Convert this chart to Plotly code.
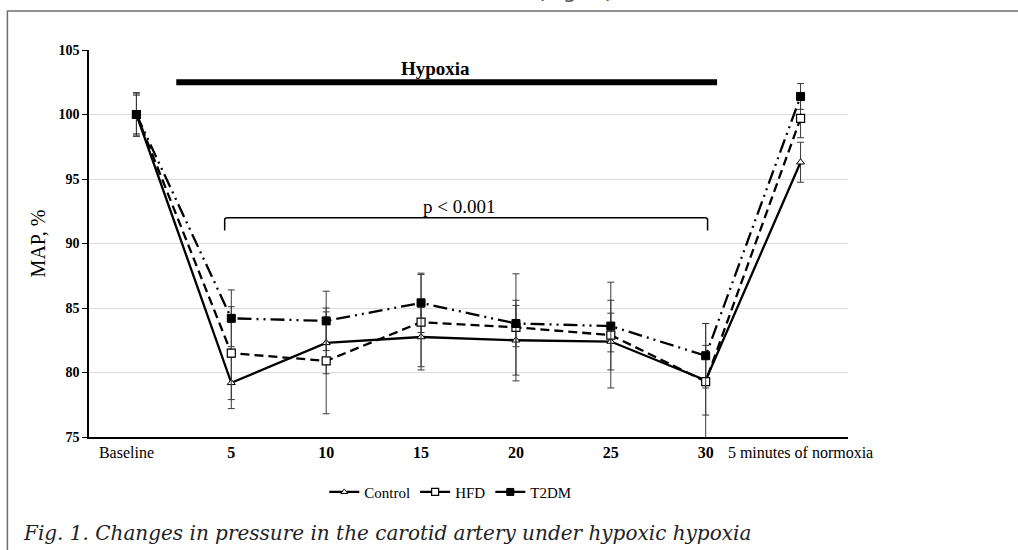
import plotly.graph_objects as go

categories = ["Baseline", "5", "10", "15", "20", "25", "30", "5 minutes of normoxia"]
tick_labels = ["Baseline&nbsp;&nbsp;&nbsp;&nbsp;&nbsp;", "<b>5</b>", "<b>10</b>", "<b>15</b>", "<b>20</b>",
               "<b>25</b>", "<b>30</b>", "5 minutes of normoxia"]

control = [100.0, 79.2, 82.3, 82.75, 82.5, 82.4, 79.4, 96.3]
control_err = [1.6, 2.0, 2.4, 2.3, 2.7, 2.2, 2.7, 1.55]

hfd = [100.0, 81.5, 80.9, 83.9, 83.5, 82.9, 79.3, 99.7]
hfd_err = [1.5, 3.6, 4.1, 3.7, 4.15, 4.1, 4.5, 1.5]

t2dm = [100.0, 84.2, 84.0, 85.4, 83.8, 83.6, 81.3, 101.4]
t2dm_err = [1.7, 2.2, 2.3, 2.3, 1.8, 2.0, 2.5, 1.0]

y_ticks = [75, 80, 85, 90, 95, 100, 105]

xs = list(range(len(categories)))
serif = "Liberation Serif"

fig = go.Figure()

def add_series(name, vals, errs, dash, symbol, msize, mcolor, mline):
    fig.add_trace(go.Scatter(
        x=xs, y=vals, name=name, mode="lines+markers", showlegend=False,
        line=dict(color="black", width=2.3, dash=dash),
        marker=dict(symbol=symbol, size=msize, color=mcolor,
                    line=dict(color="black", width=mline)),
        error_y=dict(type="data", array=errs, visible=True,
                     color="#3a3a3a", thickness=1, width=3.5),
    ))
    # legend entry (solid line, as in the reference legend)
    fig.add_trace(go.Scatter(
        x=[None], y=[None], name=name, mode="lines+markers", showlegend=True,
        line=dict(color="black", width=2.3),
        marker=dict(symbol=symbol, size=msize - 1, color=mcolor,
                    line=dict(color="black", width=mline)),
    ))

add_series("Control", control, control_err, "solid", "triangle-up", 7, "white", 1)
add_series("HFD", hfd, hfd_err, "9px,5px", "square", 8, "white", 1.2)
add_series("T2DM", t2dm, t2dm_err, "14px,5px,2px,5px,2px,5px", "square", 8, "black", 1)

# Hypoxia bar
fig.add_shape(type="line", xref="x", yref="y", x0=0.42, x1=6.12, y0=102.5, y1=102.5,
              line=dict(color="black", width=6))
fig.add_annotation(x=3.15, y=103.6, xref="x", yref="y", text="<b>Hypoxia</b>",
                   showarrow=False, font=dict(family=serif, size=19, color="black"))

# significance bracket
fig.add_shape(type="path", xref="x", yref="y",
              path="M 0.93,91.0 L 0.93,91.85 Q 0.93,92.0 0.96,92.0 L 5.99,92.0 Q 6.02,92.0 6.02,91.85 L 6.02,91.0",
              line=dict(color="black", width=1.5))
fig.add_annotation(x=3.4, y=92.85, xref="x", yref="y", text="p &lt; 0.001",
                   showarrow=False, font=dict(family=serif, size=19, color="black"))

# frame
fig.add_shape(type="path", xref="paper", yref="paper",
              path="M -0.1075,-0.4 L -0.1075,1.1005 L 1.3,1.1005",
              line=dict(color="#6e6e6e", width=1.5))

fig.add_annotation(xref="paper", yref="paper", x=-0.09, y=-0.285, xanchor="left", yanchor="bottom",
                   text="<i>Fig. 1. Changes in pressure in the carotid artery under hypoxic hypoxia</i>",
                   showarrow=False, font=dict(family="DejaVu Serif", size=20, color="#222"))
fig.add_annotation(xref="paper", yref="paper", x=0.64, y=1.115, xanchor="center", yanchor="bottom",
                   text="(Fig. 1)", showarrow=False,
                   font=dict(family="DejaVu Sans", size=22, color="#555"))

fig.update_layout(
    width=1018, height=550,
    margin=dict(l=89, r=170, t=50, b=113),
    paper_bgcolor="white", plot_bgcolor="white",
    showlegend=True,
    legend=dict(orientation="h", x=0.476, xanchor="center", y=-0.1, yanchor="top",
                font=dict(family=serif, size=15, color="black"), itemwidth=30,
                bgcolor="rgba(0,0,0,0)"),
    xaxis=dict(range=[-0.5, 7.5], tickmode="array", tickvals=xs, ticktext=tick_labels,
               showgrid=False, zeroline=False, showline=True, linecolor="black", linewidth=1.5,
               ticks="", tickfont=dict(family=serif, size=16, color="black")),
    yaxis=dict(range=[75, 105], tickmode="array", tickvals=y_ticks,
               ticktext=[f"<b>{v}</b>" for v in y_ticks],
               showgrid=True, gridcolor="#dcdcdc", gridwidth=1, zeroline=False,
               showline=True, linecolor="black", linewidth=1.5,
               ticks="outside", ticklen=5, tickcolor="black",
               tickfont=dict(family=serif, size=14, color="black"),
               title=dict(text="MAP, %", font=dict(family=serif, size=20, color="black"), standoff=7)),
)

fig.write_html("out.html", config={"displayModeBar": False},
               post_script="document.body.style.margin='0';")
